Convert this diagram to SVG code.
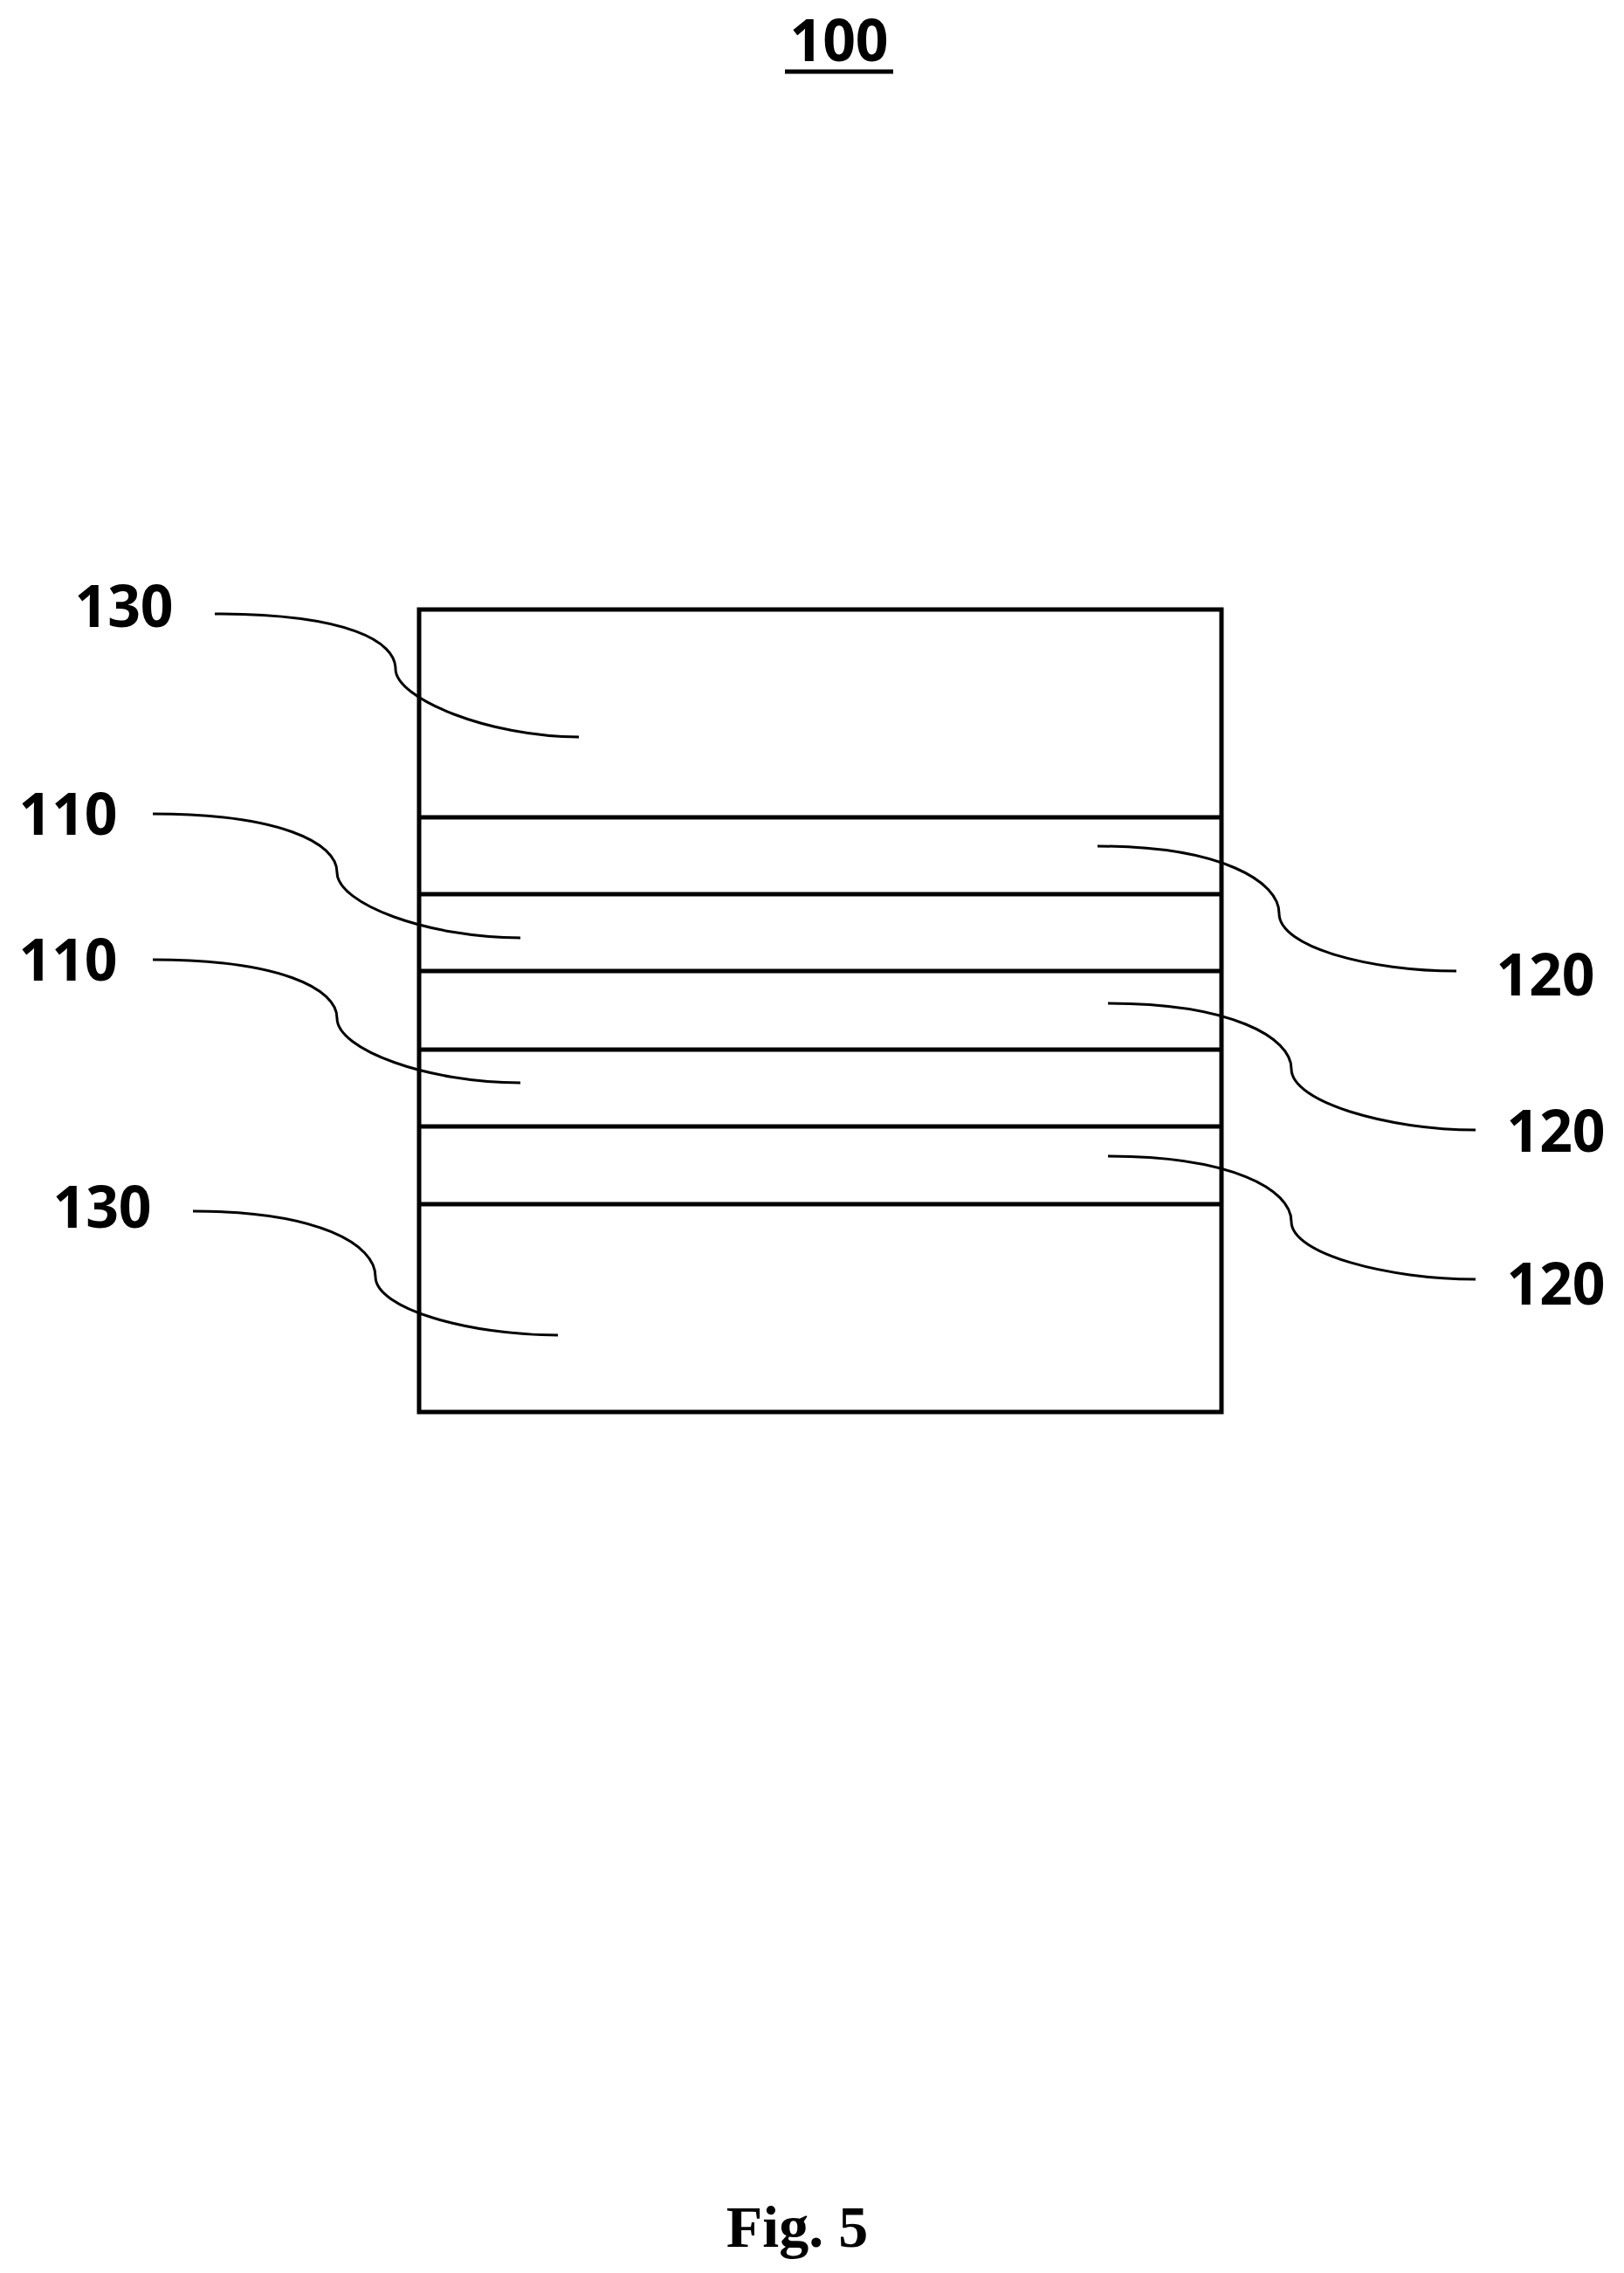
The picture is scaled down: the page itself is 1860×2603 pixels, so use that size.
<svg xmlns="http://www.w3.org/2000/svg" width="1860" height="2603" viewBox="0 0 1860 2603">
<style>
.lbl{font-family:"Open Sans","Liberation Sans",sans-serif;font-weight:bold;font-size:66px;fill:#000}
.ld{fill:none;stroke:#000;stroke-width:3}
.ly{fill:none;stroke:#000;stroke-width:5}
</style>
<rect width="1860" height="2603" fill="#fff"/>
<g id="title"><text class="lbl" x="961" y="70" text-anchor="middle">100</text>
<line x1="899" y1="82" x2="1023" y2="82" stroke="#000" stroke-width="5"/></g>
<g id="stack">
<rect class="ly" x="480" y="698" width="919" height="919"/>
<line class="ly" x1="480" y1="936" x2="1399" y2="936"/>
<line class="ly" x1="480" y1="1024" x2="1399" y2="1024"/>
<line class="ly" x1="480" y1="1112" x2="1399" y2="1112"/>
<line class="ly" x1="480" y1="1202" x2="1399" y2="1202"/>
<line class="ly" x1="480" y1="1290" x2="1399" y2="1290"/>
<line class="ly" x1="480" y1="1379" x2="1399" y2="1379"/>
</g>
<g id="labels">
<text class="lbl" x="142" y="718" text-anchor="middle">130</text>
<text class="lbl" x="78" y="956" text-anchor="middle">110</text>
<text class="lbl" x="78" y="1123" text-anchor="middle">110</text>
<text class="lbl" x="117" y="1406" text-anchor="middle">130</text>
<text class="lbl" x="1770" y="1140" text-anchor="middle">120</text>
<text class="lbl" x="1782" y="1319" text-anchor="middle">120</text>
<text class="lbl" x="1782" y="1494" text-anchor="middle">120</text>
<text x="913" y="2573" text-anchor="middle" font-family="Liberation Serif,serif" font-weight="bold" font-size="68">Fig. 5</text>
</g>
<g id="connectors">
<path class="ld" d="M246,703 C400,703 453,735 453,766 C453,800 560,844 663,844"/>
<path class="ld" d="M175,932 C320,932 386,965 386,999 C386,1035 490,1074 596,1074"/>
<path class="ld" d="M175,1099 C320,1099 386,1132 386,1166 C386,1202 490,1240 596,1240"/>
<path class="ld" d="M221,1387 C365,1387 430,1425 430,1462 C430,1498 535,1529 639,1529"/>
<path class="ld" d="M1257,969 C1400,969 1465,1010 1465,1046 C1465,1085 1570,1112 1668,1112"/>
<path class="ld" d="M1269,1149 C1410,1149 1479,1188 1479,1224 C1479,1262 1590,1294 1690,1294"/>
<path class="ld" d="M1269,1324 C1410,1324 1479,1362 1479,1399 C1479,1436 1590,1465 1690,1465"/>
</g>
</svg>
